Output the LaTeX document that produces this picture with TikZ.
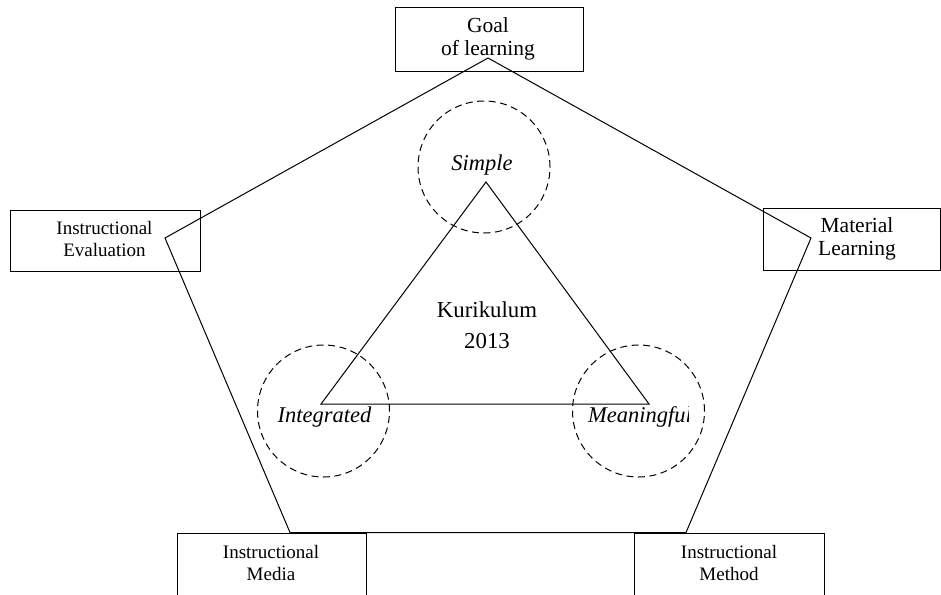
\documentclass[tikz,border=0pt]{standalone}
\usepackage{fontspec}
\setmainfont{Liberation Serif}
\begin{document}
\begin{tikzpicture}[x=1pt,y=-1pt,
  box/.style={draw,line width=1pt,inner sep=0pt,rectangle},
  big/.style={font=\fontsize{21.5}{23}\selectfont,align=center,inner sep=0pt},
  ital/.style={font=\fontsize{22.5}{24}\selectfont\itshape,align=center,inner sep=0pt},
  small/.style={font=\fontsize{19}{21.5}\selectfont,align=center,inner sep=0pt},
  ring/.style={draw,line width=1pt,dash pattern=on 7pt off 4.5pt,circle,minimum size=132pt,inner sep=0pt},
  edge/.style={line width=1pt}]
\useasboundingbox (0,0) rectangle (941,594);
% boxes
\node[box,minimum width=188pt,minimum height=63pt] (goal) at (489,39.5) {};
\node[box,minimum width=190pt,minimum height=61pt] (eval) at (105,240.5) {};
\node[box,minimum width=177pt,minimum height=62pt] (mat) at (851.5,239) {};
\node[box,minimum width=189pt,minimum height=80pt,anchor=north] (media) at (272,532.5) {};
\node[box,minimum width=190pt,minimum height=80pt,anchor=north] (method) at (729.5,532.5) {};
% box labels
\node[big] (tgoal) at (488,38.5) {Goal\\of learning};
\node[small] (teval) at (104.5,239) {Instructional\\Evaluation};
\node[big] (tmat) at (857,238.5) {Material\\Learning};
\node[small] (tmedia) at (271,563) {Instructional\\Media};
\node[small] (tmethod) at (729,563) {Instructional\\Method};
% pentagon
\coordinate (p1) at (488,58);
\coordinate (p2) at (811,238);
\coordinate (p3) at (686,532.5);
\coordinate (p4) at (290,532.5);
\coordinate (p5) at (165,238);
\draw[edge] (p1) -- (p2) -- (p3) -- (p4) -- (p5) -- cycle;
% triangle
\coordinate (t1) at (486,182);
\coordinate (t2) at (649,404);
\coordinate (t3) at (321,404);
\draw[edge] (t1) -- (t2) -- (t3) -- cycle;
% circles
\node[ring] (csimple) at (484,167) {};
\node[ring] (cint) at (323.5,411) {};
\node[ring] (cmean) at (638.5,411) {};
% texts
\node[ital] (tsimple) at (482,165) {Simple};
\node[ital] (tint) at (324.5,417) {Integrated};
\begin{scope}
\clip (580,395) rectangle (688,440);
\node[ital,anchor=west] (tmean) at (588,417) {Meaningful};
\end{scope}
\node[font=\fontsize{22.8}{31}\selectfont,align=center,inner sep=0pt] (tkur) at (487,325) {Kurikulum\\2013};
\end{tikzpicture}
\end{document}
